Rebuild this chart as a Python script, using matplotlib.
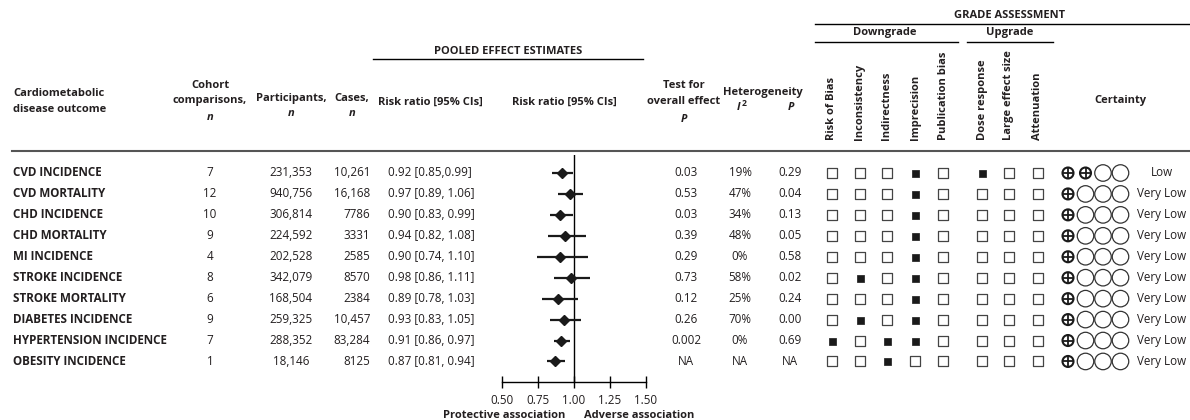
import matplotlib
matplotlib.use("Agg")
import matplotlib.pyplot as plt

plt.rcParams['font.family'] = ['Open Sans', 'DejaVu Sans']

# ---------------- data ----------------
outcomes = ["CVD INCIDENCE", "CVD MORTALITY", "CHD INCIDENCE", "CHD MORTALITY", "MI INCIDENCE",
            "STROKE INCIDENCE", "STROKE MORTALITY", "DIABETES INCIDENCE",
            "HYPERTENSION INCIDENCE", "OBESITY INCIDENCE"]
cohorts = [7, 12, 10, 9, 4, 8, 6, 9, 7, 1]
participants = [231353, 940756, 306814, 224592, 202528, 342079, 168504, 259325, 288352, 18146]
cases = [10261, 16168, 7786, 3331, 2585, 8570, 2384, 10457, 83284, 8125]
rr = [0.92, 0.97, 0.90, 0.94, 0.90, 0.98, 0.89, 0.93, 0.91, 0.87]
ci_lo = [0.85, 0.89, 0.83, 0.82, 0.74, 0.86, 0.78, 0.83, 0.86, 0.81]
ci_hi = [0.99, 1.06, 0.99, 1.08, 1.10, 1.11, 1.03, 1.05, 0.97, 0.94]
p_overall = ["0.03", "0.53", "0.03", "0.39", "0.29", "0.73", "0.12", "0.26", "0.002", "NA"]
i2 = ["19%", "47%", "34%", "48%", "0%", "58%", "25%", "70%", "0%", "NA"]
p_het = ["0.29", "0.04", "0.13", "0.05", "0.58", "0.02", "0.24", "0.00", "0.69", "NA"]

# GRADE domains (1 = filled box)
risk_of_bias = [0, 0, 0, 0, 0, 0, 0, 0, 1, 0]
inconsistency = [0, 0, 0, 0, 0, 1, 0, 1, 0, 0]
indirectness = [0, 0, 0, 0, 0, 0, 0, 0, 1, 1]
imprecision = [1, 1, 1, 1, 1, 1, 1, 1, 1, 0]
publication_bias = [0, 0, 0, 0, 0, 0, 0, 0, 0, 0]
dose_response = [1, 0, 0, 0, 0, 0, 0, 0, 0, 0]
large_effect = [0, 0, 0, 0, 0, 0, 0, 0, 0, 0]
attenuation = [0, 0, 0, 0, 0, 0, 0, 0, 0, 0]
grade_names = ["Risk of Bias", "Inconsistency", "Indirectness", "Imprecision", "Publication bias",
               "Dose response", "Large effect size", "Attenuation"]
grade_cols = [risk_of_bias, inconsistency, indirectness, imprecision, publication_bias,
              dose_response, large_effect, attenuation]
certainty_plus = [2, 1, 1, 1, 1, 1, 1, 1, 1, 1]
certainty = ["Low"] + ["Very Low"] * 9

ticks = [0.50, 0.75, 1.00, 1.25, 1.50]

# ---------------- layout ----------------
W, H = 1190, 420
fs = 8.4      # body text
hfs = 8       # header text
txt = '#231f20'
row_y = [173 + 20.94 * i for i in range(len(outcomes))]
grade_x = [832, 860, 887, 915, 943, 982, 1009, 1038]
circ_x = [1068, 1085.5, 1103, 1120.5]

fig = plt.figure(figsize=(W / 100, H / 100), dpi=100)
ax = fig.add_axes([0, 0, 1, 1])
ax.set_xlim(0, W)
ax.set_ylim(H, 0)
ax.axis('off')

hk = dict(fontsize=hfs, weight='bold', color=txt, va='center')

# group headers
ax.text(508, 52, "POOLED EFFECT ESTIMATES", ha='center', **hk)
ax.plot([373, 643], [59, 59], color='black', lw=1)
ax.text(1010, 15, "GRADE ASSESSMENT", ha='center', **hk)
ax.plot([815, 1190], [24, 24], color='black', lw=1)
ax.text(885, 33, "Downgrade", ha='center', **hk)
ax.plot([815, 958], [42, 42], color='black', lw=1)
ax.text(1010, 33, "Upgrade", ha='center', **hk)
ax.plot([967, 1053], [42, 42], color='black', lw=1)

# column headers
ax.text(13, 93, "Cardiometabolic", ha='left', **hk)
ax.text(13, 110, "disease outcome", ha='left', **hk)
ax.text(210, 85, "Cohort", ha='center', **hk)
ax.text(210, 101, "comparisons,", ha='center', **hk)
ax.text(210, 118, "n", ha='center', style='italic', **hk)
ax.text(291, 98, "Participants,", ha='center', **hk)
ax.text(291, 113, "n", ha='center', style='italic', **hk)
ax.text(352, 98, "Cases,", ha='center', **hk)
ax.text(352, 113, "n", ha='center', style='italic', **hk)
ax.text(378, 102, "Risk ratio [95% CIs]", ha='left', **hk)
ax.text(564, 102, "Risk ratio [95% CIs]", ha='center', **hk)
ax.text(684, 85, "Test for", ha='center', **hk)
ax.text(684, 102, "overall effect", ha='center', **hk)
ax.text(684, 119, "P", ha='center', style='italic', **hk)
ax.text(763, 92, "Heterogeneity", ha='center', **hk)
ax.text(739, 108, "I", ha='center', style='italic', **hk)
ax.text(744, 104, "2", ha='center', fontsize=6.2, weight='bold', color=txt, va='center')
ax.text(791, 107, "P", ha='center', style='italic', **hk)
for x, name in zip(grade_x, grade_names):
    ax.text(x, 140, name, rotation=90, ha='center', va='bottom', fontsize=hfs, weight='bold', color=txt)
ax.text(1120, 100, "Certainty", ha='center', **hk)

ax.plot([12, 1190], [151, 151], color='#555555', lw=1.5)

# rows
rk = dict(fontsize=fs, color=txt, va='center')
for i, y in enumerate(row_y):
    ax.text(13, y, outcomes[i], ha='left', weight='bold', **rk)
    ax.text(210, y, str(cohorts[i]), ha='center', **rk)
    ax.text(291, y, f"{participants[i]:,}", ha='center', **rk)
    c = f"{cases[i]:,}" if cases[i] >= 10000 else str(cases[i])
    ax.text(370, y, c, ha='right', **rk)
    sep = "," if i == 0 else ", "
    ax.text(388, y, f"{rr[i]:.2f} [{ci_lo[i]:.2f}{sep}{ci_hi[i]:.2f}]", ha='left', **rk)
    ax.text(686, y, p_overall[i], ha='center', **rk)
    ax.text(740, y, i2[i], ha='center', **rk)
    ax.text(790, y, p_het[i], ha='center', **rk)
    ax.text(1162, y, certainty[i], ha='center', **rk)

# GRADE boxes
for x, col in zip(grade_x, grade_cols):
    ys_open = [y for y, v in zip(row_y, col) if v == 0]
    ys_fill = [y for y, v in zip(row_y, col) if v == 1]
    ax.scatter([x] * len(ys_open), ys_open, marker='s', s=(9.5 * 0.72) ** 2,
               facecolor='white', edgecolor='#444444', linewidths=0.9, zorder=3)
    ax.scatter([x] * len(ys_fill), ys_fill, marker='s', s=(7 * 0.72) ** 2,
               facecolor='#1a1a1a', edgecolor='#1a1a1a', linewidths=0.5, zorder=3)

# certainty symbols
for i, y in enumerate(row_y):
    n_plus = certainty_plus[i]
    px = circ_x[:n_plus]
    ox = circ_x[n_plus:]
    ax.scatter(px, [y] * len(px), marker='o', s=(11 * 0.72) ** 2, facecolor='none',
               edgecolor='#1a1a1a', linewidths=1.5, zorder=3)
    ax.scatter(px, [y] * len(px), marker='+', s=(11 * 0.72) ** 2, color='#1a1a1a',
               linewidths=1.3, zorder=3)
    ax.scatter(ox, [y] * len(ox), marker='o', s=(16.5 * 0.72) ** 2, facecolor='none',
               edgecolor='#333333', linewidths=0.9, zorder=3)

ax.text(565, 415, "Protective association", ha='right', **hk)
ax.text(584, 415, "Adverse association", ha='left', **hk)

# forest plot
x0, x1 = 502, 646
y_top, y_bot = 155, 382
axf = fig.add_axes([x0 / W, 1 - y_bot / H, (x1 - x0) / W, (y_bot - y_top) / H])
axf.set_xlim(0.5, 1.5)
axf.set_ylim(y_bot, y_top)
axf.patch.set_alpha(0)
for s in ['left', 'right', 'top']:
    axf.spines[s].set_visible(False)
axf.spines['bottom'].set_linewidth(1)
axf.set_yticks([])
axf.set_xticks(ticks)
axf.set_xticklabels([f"{t:.2f}" for t in ticks])
axf.tick_params(axis='x', direction='inout', length=8, width=1, pad=5, labelsize=fs, labelcolor=txt)
axf.axvline(1.0, color='black', lw=1)
axf.hlines(row_y, ci_lo, ci_hi, color='#1a1a1a', lw=1.6)
axf.plot(rr, row_y, 'D', color='#1a1a1a', markersize=5)

fig.savefig("out.png", dpi=100)
